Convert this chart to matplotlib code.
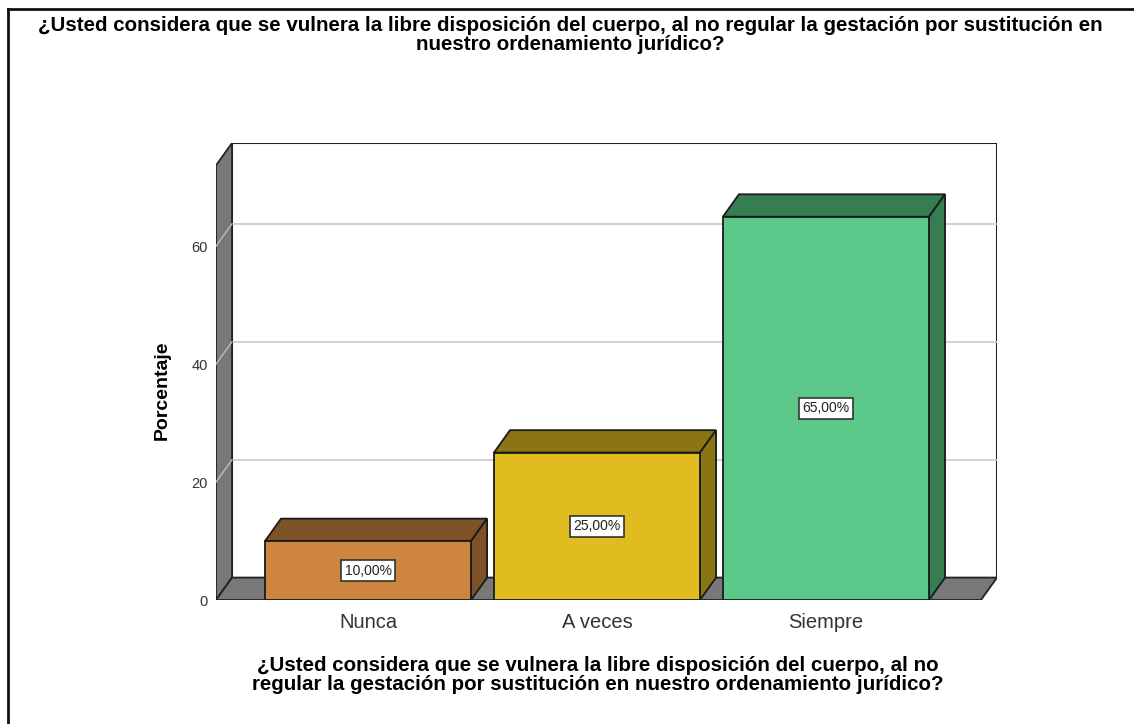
import matplotlib
matplotlib.use('Agg')
import matplotlib.pyplot as plt
from matplotlib.patches import Polygon, Rectangle
from matplotlib.lines import Line2D

categories = ['Nunca', 'A veces', 'Siempre']
percentages = [10, 25, 65]
value_labels = ['10,00%', '25,00%', '65,00%']
y_ticks = [0, 20, 40, 60]

front_colors = ['#CD853F', '#E0BC20', '#5CC98B']
dark_colors = ['#7E5229', '#8B7414', '#377D52']
wall_color = '#787878'

title = ('¿Usted considera que se vulnera la libre disposición del cuerpo, al no regular la gestación por sustitución en\n'
         'nuestro ordenamiento jurídico?')
xlabel = ('¿Usted considera que se vulnera la libre disposición del cuerpo, al no\n'
          'regular la gestación por sustitución en nuestro ordenamiento jurídico?')

plt.rcParams['font.family'] = ['Liberation Sans', 'DejaVu Sans']

W, H = 1134, 724
fig = plt.figure(figsize=(W / 100, H / 100), dpi=100)
ax = fig.add_axes([216 / W, (H - 600) / H, (997 - 216) / W, (600 - 143) / H])

x0, x1 = -0.664, 2.747
y0, y1 = 0, 77.5
DX, DY = 0.07, 3.8
hw = 0.45
ax.set_xlim(x0, x1)
ax.set_ylim(y0, y1)

# walls
ax.add_patch(Rectangle((x0 + DX, DY), x1 - x0 - DX, y1 - DY, facecolor='white',
                       edgecolor='#222222', lw=1.5, zorder=1))
ax.add_patch(Polygon([(x0, 0), (x0, y1 - DY), (x0 + DX, y1), (x0 + DX, DY)],
                     closed=True, facecolor=wall_color, edgecolor='#222222', lw=1.3, zorder=2))
ax.add_patch(Polygon([(x0, 0), (x1 - DX, 0), (x1, DY), (x0 + DX, DY)],
                     closed=True, facecolor=wall_color, edgecolor='#222222', lw=1.3, zorder=2))
for v in y_ticks[1:]:
    ax.plot([x0 + DX, x1], [v + DY, v + DY], color='#c8c8c8', lw=1.2, zorder=1.5)
    ax.plot([x0, x0 + DX], [v, v + DY], color='#bdbdbd', lw=1.0, zorder=2.5)

# bars
for i, (v, fc, dc, lab) in enumerate(zip(percentages, front_colors, dark_colors, value_labels)):
    l, r = i - hw, i + hw
    ax.add_patch(Polygon([(l, v), (l + DX, v + DY), (r + DX, v + DY), (r, v)],
                         closed=True, facecolor=dc, edgecolor='#1a1a1a', lw=1.3, zorder=3))
    ax.add_patch(Polygon([(r, 0), (r, v), (r + DX, v + DY), (r + DX, DY)],
                         closed=True, facecolor=dc, edgecolor='#1a1a1a', lw=1.3, zorder=3))
    ax.add_patch(Rectangle((l, 0), r - l, v, facecolor=fc, edgecolor='#1a1a1a', lw=1.3, zorder=4))
    ax.text(i, v / 2, lab, ha='center', va='center', fontsize=10, color='#222222', zorder=5,
            bbox=dict(boxstyle='square,pad=0.25', facecolor='white', edgecolor='#333333', lw=1.2))

ax.set_xticks(range(len(categories)))
ax.set_xticklabels(categories, fontsize=14.5, color='#333333')
ax.set_yticks(y_ticks)
ax.set_yticklabels([str(t) for t in y_ticks], fontsize=10.5, color='#333333')
ax.tick_params(length=0)
ax.tick_params(axis='x', pad=9)
ax.tick_params(axis='y', pad=6)
for s in ax.spines.values():
    s.set_visible(False)
ax.patch.set_visible(False)

fig.text(570 / W, 1 - 16 / H, title, ha='center', va='top', fontsize=14.8, fontweight='bold',
         linespacing=0.98)
fig.text(598 / W, 1 - 656 / H, xlabel, ha='center', va='top', fontsize=14.8, fontweight='bold',
         linespacing=0.98)
fig.text(162 / W, 1 - 390 / H, 'Porcentaje', ha='center', va='center', rotation=90,
         fontsize=14, fontweight='bold')

# outer frame (top and left edges)
fig.add_artist(Line2D([8 / W, 1], [1 - 9 / H, 1 - 9 / H], transform=fig.transFigure,
                      color='#111111', lw=2))
fig.add_artist(Line2D([8 / W, 8 / W], [0, 1 - 9 / H], transform=fig.transFigure,
                      color='#111111', lw=2))

fig.savefig('out.png', dpi=100)
